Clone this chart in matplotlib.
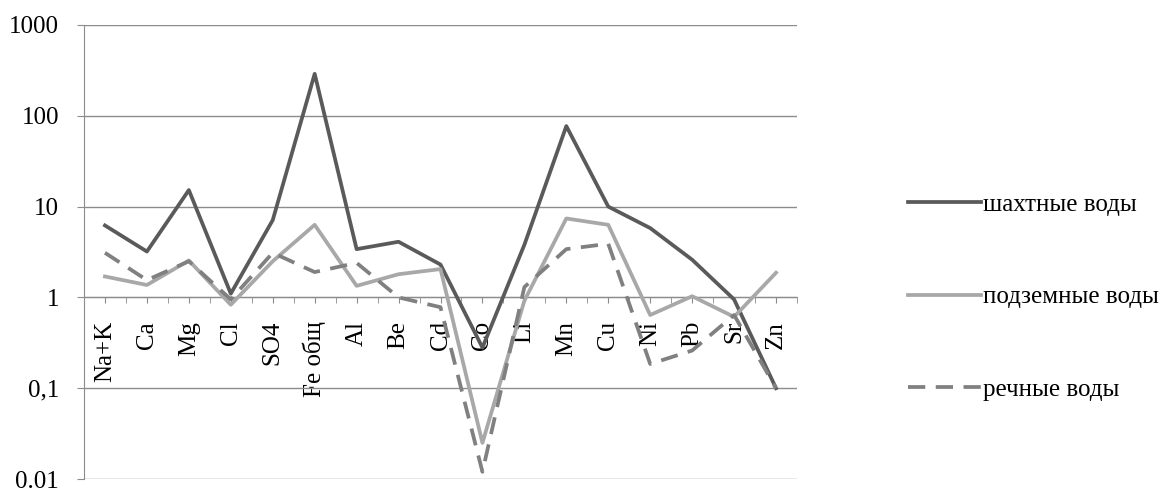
import numpy as np
import matplotlib
matplotlib.use("Agg")
import matplotlib.pyplot as plt
from matplotlib.ticker import FixedLocator, FixedFormatter, NullFormatter

plt.rcParams['font.family'] = ['Liberation Serif', 'DejaVu Serif']

elements = ["Na+K", "Ca", "Mg", "Cl", "SO4", "Fe общ", "Al", "Be", "Cd", "Co",
            "Li", "Mn", "Cu", "Ni", "Pb", "Sr", "Zn"]

mine_water = [6.2, 3.2, 15.2, 1.1, 7.1, 290, 3.4, 4.1, 2.3, 0.28,
              3.8, 77, 10, 5.8, 2.6, 0.95, 0.1]
ground_water = [1.7, 1.37, 2.55, 0.83, 2.5, 6.3, 1.34, 1.8, 2.05, 0.025,
                0.92, 7.4, 6.3, 0.64, 1.03, 0.61, 1.87]
river_water = [3.1, 1.55, 2.5, 0.95, 3.1, 1.9, 2.4, 1.0, 0.78, 0.012,
               1.3, 3.4, 3.9, 0.185, 0.26, 0.64, 0.1]

series_names = ["шахтные воды", "подземные воды", "речные воды"]

ytick_vals = [0.01, 0.1, 1, 10, 100, 1000]
ytick_labels = ["0.01", "0,1", "1", "10", "100", "1000"]

fig = plt.figure(figsize=(11.67, 4.88), dpi=100)
ax = fig.add_axes([84 / 1167, 1 - 479 / 488, (797 - 84) / 1167, (479 - 25) / 488])

x = np.arange(len(elements))
ax.plot(x, mine_water, color="#5a5a5a", lw=2.7, label=series_names[0], zorder=3)
ax.plot(x, ground_water, color="#a8a8a8", lw=2.7, label=series_names[1], zorder=3)
ax.plot(x, river_water, color="#808080", lw=2.7, ls=(0, (4.6, 2.8)),
        label=series_names[2], zorder=3)

ax.set_yscale("log")
ax.set_ylim(0.01, 1000)
ax.set_xlim(-0.5, len(elements) - 0.5)

ax.yaxis.set_major_locator(FixedLocator(ytick_vals))
ax.yaxis.set_major_formatter(FixedFormatter(ytick_labels))
ax.yaxis.set_minor_locator(FixedLocator([]))
ax.yaxis.set_minor_formatter(NullFormatter())
ax.grid(axis="y", color="#8c8c8c", lw=1)
ax.set_axisbelow(True)

ax.spines["top"].set_visible(False)
ax.spines["right"].set_visible(False)
ax.spines["left"].set_color("#8c8c8c")
ax.spines["bottom"].set_color("#8c8c8c")
ax.spines["bottom"].set_position(("data", 1))

ax.set_xticks(x)
ax.set_xticklabels(elements, rotation=90, va="top", ha="center")
ax.set_xticks(np.arange(len(elements) + 1) - 0.5, minor=True)
ax.tick_params(axis="x", which="both", direction="out", length=4, color="#8c8c8c",
               labelsize=18, pad=13)
ax.tick_params(axis="y", which="major", direction="out", length=5, color="#8c8c8c",
               labelsize=18, pad=13)

ax.legend(loc="center left", bbox_to_anchor=(908 / 1167, 1 - 297 / 488),
          bbox_transform=fig.transFigure, frameon=False, fontsize=18,
          handlelength=2.9, handletextpad=0.1, labelspacing=2.8,
          borderpad=0, borderaxespad=0)

fig.savefig("out.png", dpi=100)
